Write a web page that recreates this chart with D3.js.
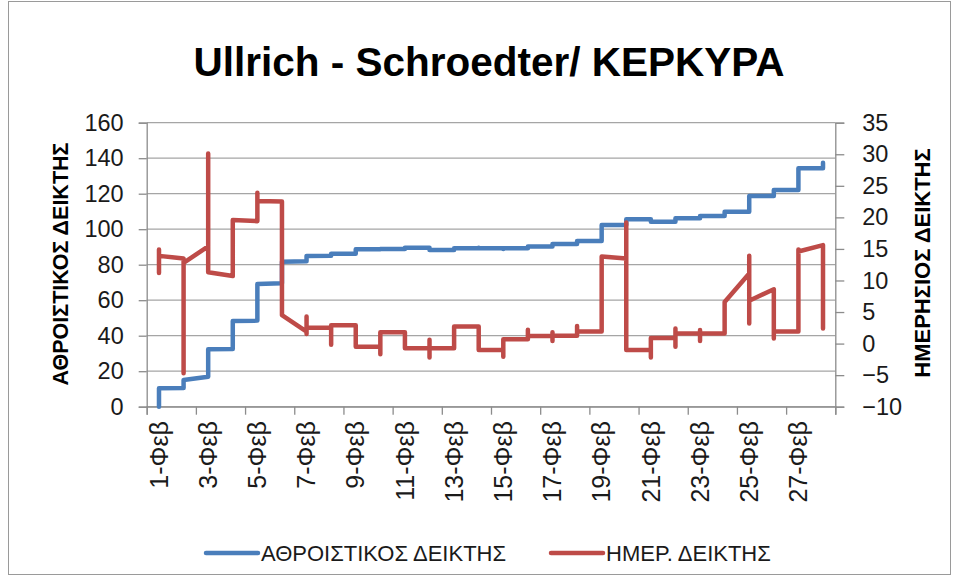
<!DOCTYPE html>
<html>
<head>
<meta charset="utf-8">
<script src="https://cdn.jsdelivr.net/npm/d3@7"></script>
<style>
  body { margin: 0; background: #fff; }
  svg { display: block; font-family: "Liberation Sans", Arial, sans-serif; }
</style>
</head>
<body>
<div id="container"></div>
<script>

var title = "Ullrich - Schroedter/ ΚΕΡΚΥΡΑ";
var leftTitle = "ΑΘΡΟΙΣΤΙΚΟΣ ΔΕΙΚΤΗΣ";
var rightTitle = "ΗΜΕΡΗΣΙΟΣ ΔΕΙΚΤΗΣ";
var seriesNames = ["ΑΘΡΟΙΣΤΙΚΟΣ ΔΕΙΚΤΗΣ", "ΗΜΕΡ. ΔΕΙΚΤΗΣ"];

var days = ["1-Φεβ", "2-Φεβ", "3-Φεβ", "4-Φεβ", "5-Φεβ", "6-Φεβ", "7-Φεβ",
            "8-Φεβ", "9-Φεβ", "10-Φεβ", "11-Φεβ", "12-Φεβ", "13-Φεβ", "14-Φεβ",
            "15-Φεβ", "16-Φεβ", "17-Φεβ", "18-Φεβ", "19-Φεβ", "20-Φεβ", "21-Φεβ",
            "22-Φεβ", "23-Φεβ", "24-Φεβ", "25-Φεβ", "26-Φεβ", "27-Φεβ", "28-Φεβ"];

// several readings per day, all drawn on the same date slot
var cumulative = [
  [0, 10.4], [10.5, 15], [16.9, 32.3], [32.5, 48.3], [48.5, 69.1], [69.5, 81.7],
  [82, 84.9], [85, 86.2], [86.2, 88.7], [88.7, 88.8], [88.8, 89.6], [89.6, 88.3],
  [88.3, 89.2], [89.2, 89.6, 89.2], [89.2, 88.9, 89.2], [89.2, 90.2], [90.2, 91.7],
  [91.7, 93.4], [93.4, 102.4], [102.4, 105.6], [105.6, 104.2], [104.2, 106.1],
  [106.1, 107.4], [107.4, 109.9], [109.9, 118.7], [118.7, 122.1], [122.1, 134.4],
  [134.4, 137.5]
];

var daily = [
  [14.9, 11.2, 13.9], [13.5, -4.7, 12.8], [15.4, 30.1, 11.3], [10.7, 19.6],
  [19.4, 23.9, 22.6], [22.5, 4.5], [1.9, 4.3, 1.5, 2.5], [2.5, -0.2, 2.9],
  [2.9, -0.5], [-0.5, -1.7, 1.8], [1.8, -0.75], [-0.75, 0.6, -2.2, -0.75],
  [-0.75, 2.7], [2.7, -1.0], [-1.0, -2.1, 0.7], [0.7, 2.2, 1.2],
  [1.2, 1.8, 0.4, 1.25], [1.25, 2.8, 1.9], [1.9, 13.8], [13.5, 19.2, -1.0],
  [-1.0, -2.2, 0.9], [0.9, 2.4, -0.5, 1.6], [1.6, 2.15, 0.4, 1.6], [1.6, 6.6],
  [11.1, 13.9, 3.2, 6.8], [8.6, 0.8, 1.9], [1.9, 14.9, 14.6], [15.6, 2.4]
];

var leftTicks = [0, 20, 40, 60, 80, 100, 120, 140, 160];
var rightTicks = [-10, -5, 0, 5, 10, 15, 20, 25, 30, 35];

var colors = {blue: "#4a7ebb", red: "#be4b48", grid: "#a5a5a5", axis: "#8c8c8c", text: "#1a1a1a"};

(function () {
  var width = 955, height = 577;
  var plot = {left: 146.7, right: 835.3, top: 122.7, bottom: 406.7};

  var svg = d3.select("#container")
      .append("svg")
      .attr("width", width)
      .attr("height", height);

  // chart frame
  svg.append("rect")
    .attr("x", 8.5).attr("y", 1.5)
    .attr("width", 942).attr("height", 573)
    .attr("fill", "none")
    .attr("stroke", "#9a9a9a");

  var x = d3.scaleLinear()
      .domain([0.5, days.length + 0.5])
      .range([plot.left, plot.right]);

  var yLeft = d3.scaleLinear().domain([0, 160]).range([plot.bottom, plot.top]);
  var yRight = d3.scaleLinear().domain([-10, 35]).range([plot.bottom, plot.top]);

  // gridlines
  svg.append("g")
    .selectAll("line")
    .data(leftTicks)
    .enter()
    .append("line")
    .attr("x1", plot.left).attr("x2", plot.right)
    .attr("y1", d => yLeft(d)).attr("y2", d => yLeft(d))
    .attr("stroke", colors.grid)
    .attr("stroke-width", 1.3);

  // left axis
  var gl = svg.append("g").attr("transform", "translate(" + plot.left + ",0)");
  gl.call(d3.axisLeft(yLeft).tickValues(leftTicks).tickSize(8).tickPadding(15));

  // right axis
  var gr = svg.append("g").attr("transform", "translate(" + plot.right + ",0)");
  gr.call(d3.axisRight(yRight).tickValues(rightTicks).tickSize(9).tickPadding(18));

  // bottom axis, ticks between every second date
  var edgeTicks = d3.range(0, days.length + 1, 2).map(i => i + 0.5);
  var gb = svg.append("g").attr("transform", "translate(0," + plot.bottom + ")");
  gb.call(d3.axisBottom(x).tickValues(edgeTicks).tickSize(8).tickFormat(""));

  [gl, gr, gb].forEach(function (g) {
    g.select(".domain").attr("stroke", colors.axis).attr("stroke-width", 1.3);
    g.selectAll(".tick line").attr("stroke", colors.axis).attr("stroke-width", 1.3);
    g.selectAll("text")
      .attr("font-family", "Liberation Sans, Arial, sans-serif")
      .attr("font-size", 23.5)
      .attr("fill", colors.text);
  });

  svg.append("g")
    .selectAll("text")
    .data(days.filter((d, i) => i % 2 == 0))
    .enter()
    .append("text")
    .attr("transform", d => "translate(" + x(days.indexOf(d) + 1) + ",421) rotate(-90)")
    .attr("text-anchor", "end")
    .attr("dy", "0.35em")
    .attr("font-size", 25)
    .attr("fill", colors.text)
    .text(d => d);

  // series
  function points(series) {
    var pts = [];
    series.forEach(function (vals, i) {
      vals.forEach(v => pts.push({day: i + 1, v: v}));
    });
    return pts;
  }

  svg.append("path")
    .datum(points(cumulative))
    .attr("fill", "none")
    .attr("stroke", colors.blue)
    .attr("stroke-width", 4.5)
    .attr("stroke-linejoin", "round")
    .attr("stroke-linecap", "round")
    .attr("d", d3.line().x(d => x(d.day)).y(d => yLeft(d.v)));

  svg.append("path")
    .datum(points(daily))
    .attr("fill", "none")
    .attr("stroke", colors.red)
    .attr("stroke-width", 4.5)
    .attr("stroke-linejoin", "round")
    .attr("stroke-linecap", "round")
    .attr("d", d3.line().x(d => x(d.day)).y(d => yRight(d.v)));

  // titles
  svg.append("text")
    .attr("x", 489).attr("y", 76)
    .attr("text-anchor", "middle")
    .attr("font-size", 40.5)
    .attr("font-weight", "bold")
    .attr("fill", "#000")
    .text(title);

  svg.append("text")
    .attr("transform", "translate(68,264) rotate(-90)")
    .attr("text-anchor", "middle")
    .attr("font-size", 21.5)
    .attr("font-weight", "bold")
    .attr("fill", "#000")
    .text(leftTitle);

  svg.append("text")
    .attr("transform", "translate(930,263) rotate(-90)")
    .attr("text-anchor", "middle")
    .attr("font-size", 22)
    .attr("font-weight", "bold")
    .attr("fill", "#000")
    .text(rightTitle);

  // legend
  var legend = [{x: 206, color: colors.blue, name: seriesNames[0]},
                {x: 551, color: colors.red, name: seriesNames[1]}];
  var lg = svg.append("g")
    .selectAll("g")
    .data(legend)
    .enter()
    .append("g")
    .attr("transform", d => "translate(" + d.x + ",553)");
  lg.append("line")
    .attr("x1", 0).attr("x2", 52)
    .attr("stroke", d => d.color)
    .attr("stroke-width", 4.5)
    .attr("stroke-linecap", "round");
  lg.append("text")
    .attr("x", 55)
    .attr("dy", "0.35em")
    .attr("font-size", 22)
    .attr("fill", colors.text)
    .text(d => d.name);

})();
</script>
</body>
</html>
